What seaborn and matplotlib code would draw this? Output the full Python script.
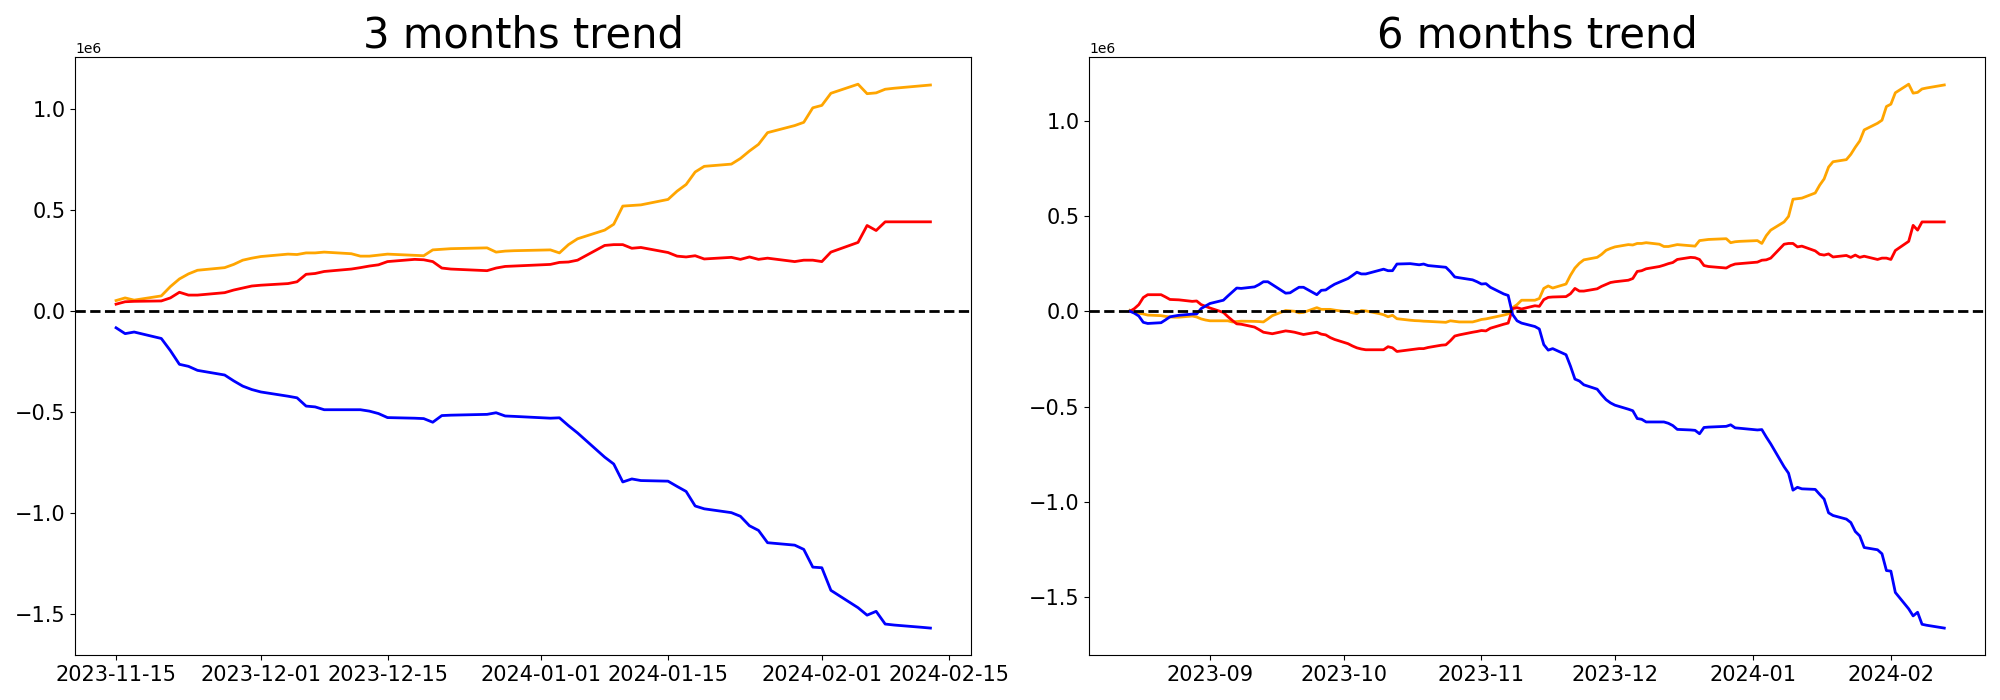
import matplotlib
matplotlib.use('Agg')
import matplotlib.pyplot as plt
import seaborn as sns
import pandas as pd
import numpy as np

# trading days (weekdays without Christmas / New Year)
holidays = pd.to_datetime(['2023-12-25', '2024-01-01'])
dates_3m = pd.bdate_range('2023-11-15', '2024-02-13').drop(holidays)
dates_6m = pd.bdate_range('2023-08-14', '2024-02-13').drop(holidays)

# cumulative values, in thousands
orange_3m = [53, 66, 55, 76, 122, 160, 185, 203, 216, 232, 253, 263,
             271, 283, 281, 289, 289, 293, 285, 273, 273, 278, 283, 277, 275, 304, 307, 310, 314, 293, 298, 300,
             304, 289, 330, 359, 402, 431, 521, 524, 527, 554, 595, 628, 690, 718, 729, 757, 794, 827, 885, 920, 936, 1008,
             1020, 1080, 1125, 1078, 1082, 1100, 1105, 1117, 1121]
red_3m = [35, 47, 49, 51, 66, 94, 80, 80, 92, 105, 115, 125,
          129, 137, 146, 183, 187, 197, 209, 216, 224, 230, 246, 257, 255, 246, 214, 209, 201, 214, 222, 224,
          232, 242, 244, 253, 326, 330, 330, 312, 316, 291, 273, 269, 275, 259, 267, 257, 269, 257, 263, 246, 253, 253,
          246, 293, 341, 425, 400, 443, 443, 443, 443]
blue_3m = [-82, -111, -103, -135, -195, -263, -273, -293, -316, -345, -371, -388,
           -400, -421, -429, -470, -474, -488, -488, -488, -495, -507, -527, -530, -532, -550, -517, -515, -511, -503, -519, -521,
           -530, -528, -567, -603, -723, -757, -846, -831, -839, -842, -868, -893, -965, -979, -998, -1016, -1063, -1086, -1147, -1159, -1180, -1268,
           -1271, -1383, -1469, -1506, -1487, -1550, -1555, -1566, -1570]

orange_6m = [5, -4, -10, -14, -20, -23, -27, -30, -31, -31, -25, -30, -40, -46,
             -50, -50, -50, -56, -54, -52, -53, -54, -56, -40, -23, 4, 2, 0, -8, -6, 19, 10, 10, 10, 6,
             -3, -8, -12, 4, 2, -12, -18, -29, -21, -39, -47, -49, -50, -52, -53, -57, -58, -50, -53, -56, -56, -50,
             -43, -40, -35, -20, -14, 19, 35, 58, 58, 67,
             120, 133, 122, 143, 189, 227, 252, 270, 283, 299, 320, 330,
             338, 350, 348, 356, 356, 360, 352, 340, 340, 345, 350, 344, 342, 371, 374, 377, 381, 360, 365, 367,
             371, 356, 397, 426, 469, 498, 588, 591, 594, 621, 662, 695, 757, 785, 796, 824, 861, 894, 952, 987, 1003, 1075,
             1087, 1147, 1192, 1145, 1149, 1167, 1172, 1184, 1188]
red_6m = [0, 14, 35, 72, 87, 87, 75, 62, 61, 60, 52, 54, 35, 26,
          17, -6, -28, -48, -66, -68, -83, -96, -110, -114, -118, -103, -106, -110, -116, -122, -110, -120, -124, -138, -148,
          -170, -182, -192, -198, -202, -202, -202, -186, -192, -211, -202, -199, -196, -196, -190, -178, -176, -155, -130, -124, -110, -106,
          -101, -103, -89, -68, -62, 14, 19, 12, 29, 26,
          61, 73, 75, 77, 92, 120, 106, 106, 118, 131, 141, 151,
          155, 163, 172, 209, 213, 223, 235, 242, 250, 256, 272, 283, 281, 272, 240, 235, 227, 240, 248, 250,
          258, 268, 270, 279, 352, 356, 356, 338, 342, 317, 299, 295, 301, 285, 293, 283, 295, 283, 289, 272, 279, 279,
          272, 319, 367, 451, 426, 469, 469, 469, 469]
blue_6m = [0, -10, -25, -58, -64, -60, -45, -29, -25, -21, -15, -14, 14, 28,
           41, 58, 80, 101, 122, 120, 128, 140, 155, 155, 140, 95, 97, 112, 126, 126, 87, 110, 112, 128, 142,
           172, 188, 205, 196, 196, 215, 221, 213, 213, 248, 250, 247, 244, 248, 240, 233, 231, 208, 180, 176, 165, 155,
           143, 145, 126, 91, 83, -17, -50, -62, -80, -93,
           -175, -204, -196, -228, -288, -356, -366, -386, -409, -438, -464, -481,
           -493, -514, -522, -563, -567, -581, -581, -581, -588, -600, -620, -623, -625, -643, -610, -608, -604, -596, -612, -614,
           -623, -621, -660, -696, -816, -850, -939, -924, -932, -935, -961, -986, -1058, -1072, -1091, -1109, -1156, -1179, -1240, -1252, -1273, -1361,
           -1364, -1476, -1562, -1599, -1580, -1643, -1648, -1659, -1663]

titles = ['3 months trend', '6 months trend']
colors = ['orange', 'red', 'blue']

fig, axes = plt.subplots(1, 2, figsize=(20, 7))
panels = [(dates_3m, [orange_3m, red_3m, blue_3m]),
          (dates_6m, [orange_6m, red_6m, blue_6m])]

for ax, (dates, series), title in zip(axes, panels, titles):
    for vals, color in zip(series, colors):
        sns.lineplot(x=dates, y=np.array(vals) * 1000, color=color, linewidth=2, ax=ax)
    ax.axhline(0, color='black', linestyle='--', linewidth=2)
    ax.set_title(title, fontsize=30)
    ax.set_xlabel('')
    ax.set_ylabel('')
    ax.tick_params(labelsize=15)

plt.tight_layout()
plt.savefig('out.png', dpi=100)
